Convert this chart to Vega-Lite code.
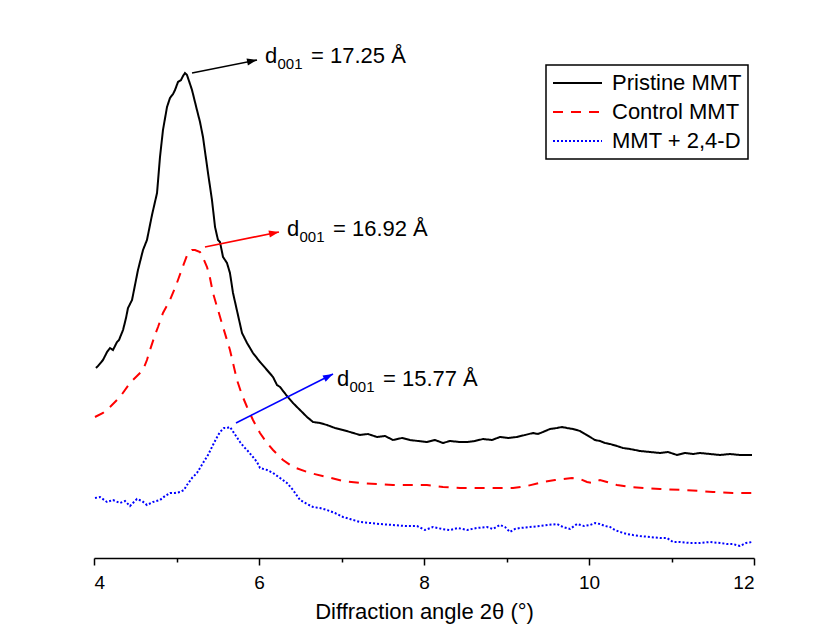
{
  "$schema": "https://vega.github.io/schema/vega-lite/v6.json",
  "width": 660,
  "height": 538,
  "autosize": {"type": "none"},
  "padding": {"left": 94, "top": 20, "right": 68, "bottom": 74},
  "background": "white",
  "config": {"font": "Liberation Sans", "view": {"stroke": null}},
  "datasets": {
    "xrd": [
      {"series":"Pristine MMT","x":4.024,"y":190},{"series":"Pristine MMT","x":4.048,"y":192},{"series":"Pristine MMT","x":4.109,"y":198},{"series":"Pristine MMT","x":4.158,"y":206},{"series":"Pristine MMT","x":4.194,"y":210},{"series":"Pristine MMT","x":4.23,"y":208},{"series":"Pristine MMT","x":4.279,"y":216},{"series":"Pristine MMT","x":4.303,"y":218},{"series":"Pristine MMT","x":4.352,"y":228},{"series":"Pristine MMT","x":4.388,"y":240},{"series":"Pristine MMT","x":4.412,"y":250},{"series":"Pristine MMT","x":4.461,"y":258},{"series":"Pristine MMT","x":4.497,"y":273},{"series":"Pristine MMT","x":4.533,"y":288},{"series":"Pristine MMT","x":4.594,"y":308},{"series":"Pristine MMT","x":4.642,"y":318},{"series":"Pristine MMT","x":4.703,"y":343},{"series":"Pristine MMT","x":4.764,"y":365},{"series":"Pristine MMT","x":4.8,"y":401},{"series":"Pristine MMT","x":4.836,"y":428},{"series":"Pristine MMT","x":4.885,"y":451},{"series":"Pristine MMT","x":4.921,"y":460},{"series":"Pristine MMT","x":4.958,"y":464},{"series":"Pristine MMT","x":4.982,"y":468},{"series":"Pristine MMT","x":5.018,"y":476},{"series":"Pristine MMT","x":5.055,"y":478},{"series":"Pristine MMT","x":5.079,"y":482},{"series":"Pristine MMT","x":5.103,"y":485},{"series":"Pristine MMT","x":5.127,"y":483},{"series":"Pristine MMT","x":5.164,"y":474},{"series":"Pristine MMT","x":5.188,"y":468},{"series":"Pristine MMT","x":5.248,"y":448},{"series":"Pristine MMT","x":5.285,"y":436},{"series":"Pristine MMT","x":5.321,"y":421},{"series":"Pristine MMT","x":5.382,"y":385},{"series":"Pristine MMT","x":5.43,"y":358},{"series":"Pristine MMT","x":5.467,"y":331},{"series":"Pristine MMT","x":5.503,"y":318},{"series":"Pristine MMT","x":5.527,"y":316},{"series":"Pristine MMT","x":5.564,"y":301},{"series":"Pristine MMT","x":5.612,"y":295},{"series":"Pristine MMT","x":5.648,"y":285},{"series":"Pristine MMT","x":5.685,"y":265},{"series":"Pristine MMT","x":5.745,"y":243},{"series":"Pristine MMT","x":5.794,"y":225},{"series":"Pristine MMT","x":5.855,"y":215},{"series":"Pristine MMT","x":5.927,"y":205},{"series":"Pristine MMT","x":6.012,"y":196},{"series":"Pristine MMT","x":6.097,"y":188},{"series":"Pristine MMT","x":6.17,"y":181},{"series":"Pristine MMT","x":6.218,"y":173},{"series":"Pristine MMT","x":6.255,"y":171},{"series":"Pristine MMT","x":6.339,"y":162},{"series":"Pristine MMT","x":6.412,"y":155},{"series":"Pristine MMT","x":6.497,"y":148},{"series":"Pristine MMT","x":6.582,"y":141},{"series":"Pristine MMT","x":6.655,"y":136},{"series":"Pristine MMT","x":6.739,"y":135},{"series":"Pristine MMT","x":6.824,"y":133},{"series":"Pristine MMT","x":6.921,"y":130},{"series":"Pristine MMT","x":7.018,"y":128},{"series":"Pristine MMT","x":7.103,"y":126},{"series":"Pristine MMT","x":7.224,"y":123},{"series":"Pristine MMT","x":7.321,"y":124},{"series":"Pristine MMT","x":7.43,"y":121},{"series":"Pristine MMT","x":7.527,"y":122},{"series":"Pristine MMT","x":7.624,"y":118},{"series":"Pristine MMT","x":7.733,"y":120},{"series":"Pristine MMT","x":7.83,"y":118},{"series":"Pristine MMT","x":7.927,"y":117},{"series":"Pristine MMT","x":8.036,"y":116},{"series":"Pristine MMT","x":8.133,"y":118},{"series":"Pristine MMT","x":8.23,"y":115},{"series":"Pristine MMT","x":8.315,"y":117},{"series":"Pristine MMT","x":8.436,"y":116},{"series":"Pristine MMT","x":8.521,"y":116},{"series":"Pristine MMT","x":8.618,"y":117},{"series":"Pristine MMT","x":8.715,"y":119},{"series":"Pristine MMT","x":8.824,"y":118},{"series":"Pristine MMT","x":8.921,"y":121},{"series":"Pristine MMT","x":9.018,"y":120},{"series":"Pristine MMT","x":9.127,"y":121},{"series":"Pristine MMT","x":9.224,"y":123},{"series":"Pristine MMT","x":9.321,"y":125},{"series":"Pristine MMT","x":9.382,"y":124},{"series":"Pristine MMT","x":9.442,"y":126},{"series":"Pristine MMT","x":9.527,"y":129},{"series":"Pristine MMT","x":9.612,"y":130},{"series":"Pristine MMT","x":9.673,"y":131},{"series":"Pristine MMT","x":9.733,"y":130},{"series":"Pristine MMT","x":9.806,"y":129},{"series":"Pristine MMT","x":9.891,"y":127},{"series":"Pristine MMT","x":9.952,"y":124},{"series":"Pristine MMT","x":10.012,"y":121},{"series":"Pristine MMT","x":10.073,"y":118},{"series":"Pristine MMT","x":10.133,"y":117},{"series":"Pristine MMT","x":10.194,"y":115},{"series":"Pristine MMT","x":10.255,"y":114},{"series":"Pristine MMT","x":10.339,"y":112},{"series":"Pristine MMT","x":10.412,"y":110},{"series":"Pristine MMT","x":10.497,"y":109},{"series":"Pristine MMT","x":10.618,"y":107},{"series":"Pristine MMT","x":10.739,"y":106},{"series":"Pristine MMT","x":10.861,"y":105},{"series":"Pristine MMT","x":10.958,"y":106},{"series":"Pristine MMT","x":11.067,"y":103},{"series":"Pristine MMT","x":11.164,"y":105},{"series":"Pristine MMT","x":11.261,"y":104},{"series":"Pristine MMT","x":11.345,"y":105},{"series":"Pristine MMT","x":11.467,"y":104},{"series":"Pristine MMT","x":11.588,"y":103},{"series":"Pristine MMT","x":11.709,"y":104},{"series":"Pristine MMT","x":11.83,"y":103},{"series":"Pristine MMT","x":11.976,"y":103},
      {"series":"Control MMT","x":4.012,"y":141},{"series":"Control MMT","x":4.109,"y":145},{"series":"Control MMT","x":4.194,"y":151},{"series":"Control MMT","x":4.315,"y":161},{"series":"Control MMT","x":4.436,"y":175},{"series":"Control MMT","x":4.521,"y":182},{"series":"Control MMT","x":4.594,"y":188},{"series":"Control MMT","x":4.642,"y":198},{"series":"Control MMT","x":4.679,"y":208},{"series":"Control MMT","x":4.739,"y":223},{"series":"Control MMT","x":4.776,"y":231},{"series":"Control MMT","x":4.836,"y":245},{"series":"Control MMT","x":4.921,"y":258},{"series":"Control MMT","x":4.982,"y":270},{"series":"Control MMT","x":5.018,"y":278},{"series":"Control MMT","x":5.079,"y":292},{"series":"Control MMT","x":5.139,"y":305},{"series":"Control MMT","x":5.188,"y":308},{"series":"Control MMT","x":5.224,"y":308},{"series":"Control MMT","x":5.285,"y":306},{"series":"Control MMT","x":5.333,"y":298},{"series":"Control MMT","x":5.37,"y":291},{"series":"Control MMT","x":5.406,"y":280},{"series":"Control MMT","x":5.442,"y":265},{"series":"Control MMT","x":5.503,"y":248},{"series":"Control MMT","x":5.564,"y":231},{"series":"Control MMT","x":5.648,"y":208},{"series":"Control MMT","x":5.733,"y":178},{"series":"Control MMT","x":5.794,"y":163},{"series":"Control MMT","x":5.855,"y":151},{"series":"Control MMT","x":5.927,"y":138},{"series":"Control MMT","x":6.012,"y":125},{"series":"Control MMT","x":6.097,"y":115},{"series":"Control MMT","x":6.17,"y":108},{"series":"Control MMT","x":6.291,"y":98},{"series":"Control MMT","x":6.412,"y":91},{"series":"Control MMT","x":6.618,"y":85},{"series":"Control MMT","x":6.824,"y":81},{"series":"Control MMT","x":7.018,"y":77},{"series":"Control MMT","x":7.224,"y":75},{"series":"Control MMT","x":7.43,"y":74},{"series":"Control MMT","x":7.624,"y":73},{"series":"Control MMT","x":7.83,"y":73},{"series":"Control MMT","x":8.036,"y":73},{"series":"Control MMT","x":8.23,"y":71},{"series":"Control MMT","x":8.436,"y":70},{"series":"Control MMT","x":8.715,"y":70},{"series":"Control MMT","x":8.921,"y":70},{"series":"Control MMT","x":9.079,"y":70},{"series":"Control MMT","x":9.248,"y":72},{"series":"Control MMT","x":9.442,"y":76},{"series":"Control MMT","x":9.588,"y":78},{"series":"Control MMT","x":9.685,"y":79},{"series":"Control MMT","x":9.794,"y":80},{"series":"Control MMT","x":9.891,"y":79},{"series":"Control MMT","x":9.976,"y":76},{"series":"Control MMT","x":10.048,"y":75},{"series":"Control MMT","x":10.133,"y":78},{"series":"Control MMT","x":10.218,"y":76},{"series":"Control MMT","x":10.339,"y":73},{"series":"Control MMT","x":10.497,"y":71},{"series":"Control MMT","x":10.679,"y":70},{"series":"Control MMT","x":10.861,"y":69},{"series":"Control MMT","x":11.139,"y":68},{"series":"Control MMT","x":11.345,"y":67},{"series":"Control MMT","x":11.503,"y":66},{"series":"Control MMT","x":11.745,"y":65},{"series":"Control MMT","x":11.976,"y":65},
      {"series":"MMT + 2,4-D","x":4.012,"y":60},{"series":"MMT + 2,4-D","x":4.073,"y":61},{"series":"MMT + 2,4-D","x":4.158,"y":56},{"series":"MMT + 2,4-D","x":4.23,"y":58},{"series":"MMT + 2,4-D","x":4.315,"y":55},{"series":"MMT + 2,4-D","x":4.376,"y":57},{"series":"MMT + 2,4-D","x":4.436,"y":52},{"series":"MMT + 2,4-D","x":4.521,"y":59},{"series":"MMT + 2,4-D","x":4.582,"y":57},{"series":"MMT + 2,4-D","x":4.642,"y":53},{"series":"MMT + 2,4-D","x":4.715,"y":56},{"series":"MMT + 2,4-D","x":4.8,"y":58},{"series":"MMT + 2,4-D","x":4.861,"y":62},{"series":"MMT + 2,4-D","x":4.921,"y":65},{"series":"MMT + 2,4-D","x":4.982,"y":65},{"series":"MMT + 2,4-D","x":5.042,"y":66},{"series":"MMT + 2,4-D","x":5.091,"y":68},{"series":"MMT + 2,4-D","x":5.127,"y":73},{"series":"MMT + 2,4-D","x":5.188,"y":80},{"series":"MMT + 2,4-D","x":5.248,"y":85},{"series":"MMT + 2,4-D","x":5.321,"y":95},{"series":"MMT + 2,4-D","x":5.382,"y":103},{"series":"MMT + 2,4-D","x":5.43,"y":111},{"series":"MMT + 2,4-D","x":5.479,"y":119},{"series":"MMT + 2,4-D","x":5.527,"y":126},{"series":"MMT + 2,4-D","x":5.576,"y":130},{"series":"MMT + 2,4-D","x":5.612,"y":130},{"series":"MMT + 2,4-D","x":5.648,"y":131},{"series":"MMT + 2,4-D","x":5.673,"y":128},{"series":"MMT + 2,4-D","x":5.721,"y":122},{"series":"MMT + 2,4-D","x":5.77,"y":116},{"series":"MMT + 2,4-D","x":5.818,"y":111},{"series":"MMT + 2,4-D","x":5.855,"y":108},{"series":"MMT + 2,4-D","x":5.927,"y":101},{"series":"MMT + 2,4-D","x":5.976,"y":96},{"series":"MMT + 2,4-D","x":6.012,"y":90},{"series":"MMT + 2,4-D","x":6.097,"y":88},{"series":"MMT + 2,4-D","x":6.17,"y":85},{"series":"MMT + 2,4-D","x":6.255,"y":80},{"series":"MMT + 2,4-D","x":6.339,"y":75},{"series":"MMT + 2,4-D","x":6.412,"y":68},{"series":"MMT + 2,4-D","x":6.497,"y":58},{"series":"MMT + 2,4-D","x":6.582,"y":54},{"series":"MMT + 2,4-D","x":6.655,"y":51},{"series":"MMT + 2,4-D","x":6.739,"y":50},{"series":"MMT + 2,4-D","x":6.824,"y":48},{"series":"MMT + 2,4-D","x":6.921,"y":45},{"series":"MMT + 2,4-D","x":7.018,"y":41},{"series":"MMT + 2,4-D","x":7.103,"y":39},{"series":"MMT + 2,4-D","x":7.224,"y":36},{"series":"MMT + 2,4-D","x":7.345,"y":35},{"series":"MMT + 2,4-D","x":7.467,"y":34},{"series":"MMT + 2,4-D","x":7.624,"y":33},{"series":"MMT + 2,4-D","x":7.77,"y":32},{"series":"MMT + 2,4-D","x":7.915,"y":32},{"series":"MMT + 2,4-D","x":8.012,"y":28},{"series":"MMT + 2,4-D","x":8.109,"y":31},{"series":"MMT + 2,4-D","x":8.218,"y":29},{"series":"MMT + 2,4-D","x":8.315,"y":28},{"series":"MMT + 2,4-D","x":8.412,"y":30},{"series":"MMT + 2,4-D","x":8.521,"y":28},{"series":"MMT + 2,4-D","x":8.642,"y":30},{"series":"MMT + 2,4-D","x":8.764,"y":31},{"series":"MMT + 2,4-D","x":8.836,"y":29},{"series":"MMT + 2,4-D","x":8.921,"y":33},{"series":"MMT + 2,4-D","x":8.982,"y":31},{"series":"MMT + 2,4-D","x":9.042,"y":26},{"series":"MMT + 2,4-D","x":9.103,"y":29},{"series":"MMT + 2,4-D","x":9.164,"y":30},{"series":"MMT + 2,4-D","x":9.285,"y":31},{"series":"MMT + 2,4-D","x":9.406,"y":32},{"series":"MMT + 2,4-D","x":9.503,"y":33},{"series":"MMT + 2,4-D","x":9.612,"y":34},{"series":"MMT + 2,4-D","x":9.685,"y":31},{"series":"MMT + 2,4-D","x":9.77,"y":29},{"series":"MMT + 2,4-D","x":9.855,"y":34},{"series":"MMT + 2,4-D","x":9.939,"y":32},{"series":"MMT + 2,4-D","x":10.012,"y":33},{"series":"MMT + 2,4-D","x":10.073,"y":35},{"series":"MMT + 2,4-D","x":10.133,"y":34},{"series":"MMT + 2,4-D","x":10.194,"y":32},{"series":"MMT + 2,4-D","x":10.255,"y":31},{"series":"MMT + 2,4-D","x":10.315,"y":28},{"series":"MMT + 2,4-D","x":10.376,"y":26},{"series":"MMT + 2,4-D","x":10.461,"y":24},{"series":"MMT + 2,4-D","x":10.533,"y":23},{"series":"MMT + 2,4-D","x":10.618,"y":22},{"series":"MMT + 2,4-D","x":10.739,"y":21},{"series":"MMT + 2,4-D","x":10.861,"y":20},{"series":"MMT + 2,4-D","x":10.945,"y":20},{"series":"MMT + 2,4-D","x":11.018,"y":16},{"series":"MMT + 2,4-D","x":11.103,"y":16},{"series":"MMT + 2,4-D","x":11.224,"y":15},{"series":"MMT + 2,4-D","x":11.345,"y":15},{"series":"MMT + 2,4-D","x":11.467,"y":16},{"series":"MMT + 2,4-D","x":11.588,"y":15},{"series":"MMT + 2,4-D","x":11.673,"y":14},{"series":"MMT + 2,4-D","x":11.745,"y":14},{"series":"MMT + 2,4-D","x":11.83,"y":12},{"series":"MMT + 2,4-D","x":11.903,"y":15},{"series":"MMT + 2,4-D","x":11.976,"y":16}
    ],
    "notes": [
      {"series":"Pristine MMT","x":6.073,"y":495,"x1":5.188,"y1":485,"x2":5.976,"y2":498,"value":"= 17.25 Å"},
      {"series":"Control MMT","x":6.339,"y":322,"x1":5.345,"y1":311,"x2":6.242,"y2":326,"value":"= 16.92 Å"},
      {"series":"MMT + 2,4-D","x":6.945,"y":172,"x1":5.721,"y1":135,"x2":6.897,"y2":184,"value":"= 15.77 Å"}
    ]
  },
  "layer": [
    {
      "data": {"name": "xrd"},
      "mark": {"type": "line", "strokeWidth": 2, "interpolate": "linear"},
      "encoding": {
        "x": {
          "field": "x", "type": "quantitative",
          "scale": {"domain": [4, 12], "nice": false, "zero": false},
          "axis": {
            "title": "Diffraction angle 2θ (°)",
            "values": [4, 5, 6, 7, 8, 9, 10, 11, 12],
            "labelExpr": "datum.value % 2 == 0 ? format(datum.value, 'd') : ''",
            "tickSize": {"condition": {"test": "datum.value % 2 == 1", "value": 4}, "value": 7},
            "grid": false,
            "domainColor": "black", "domainWidth": 1.5,
            "tickColor": "black", "tickWidth": 1.5,
            "labelColor": "black", "labelFontSize": 19, "labelPadding": 8, "labelFont": "Liberation Sans",
            "titleColor": "black", "titleFontSize": 22, "titleFontWeight": "normal", "titlePadding": 9, "titleFont": "Liberation Sans"
          }
        },
        "y": {
          "field": "y", "type": "quantitative",
          "scale": {"domain": [0, 538], "nice": false, "zero": false},
          "axis": null
        },
        "color": {
          "field": "series", "type": "nominal",
          "scale": {"domain": ["Pristine MMT", "Control MMT", "MMT + 2,4-D"], "range": ["#000000", "#ff0000", "#0000ff"]},
          "legend": {
            "orient": "none", "legendX": 452, "legendY": 45, "title": null,
            "symbolType": "stroke", "symbolSize": 2401, "symbolStrokeWidth": 2, "symbolOffset": 0,
            "strokeColor": "black", "fillColor": "white", "padding": 6,
            "labelFont": "Liberation Sans", "labelFontSize": 22, "labelColor": "black", "labelOffset": 9, "labelLimit": 300,
            "clipHeight": 24, "rowPadding": 5,
            "encode": {"legend": {"update": {"strokeWidth": {"value": 1.5}}}}
          }
        },
        "strokeDash": {
          "field": "series", "type": "nominal",
          "scale": {"domain": ["Pristine MMT", "Control MMT", "MMT + 2,4-D"], "range": [[1, 0], [10, 8], [2, 2]]},
          "legend": null
        }
      }
    },
    {
      "data": {"name": "notes"},
      "mark": {"type": "rule", "strokeWidth": 1.6},
      "encoding": {
        "x": {"field": "x1", "type": "quantitative"},
        "y": {"field": "y1", "type": "quantitative"},
        "x2": {"field": "x2"},
        "y2": {"field": "y2"},
        "color": {"field": "series", "type": "nominal"}
      }
    },
    {
      "data": {"name": "notes"},
      "transform": [{"calculate": "atan2(-(datum.y2 - datum.y1), (datum.x2 - datum.x1) * 82.5) * 180 / PI", "as": "ang"}],
      "mark": {"type": "point", "shape": "M0,0L-2,-0.7L-2,0.7Z", "size": 100, "filled": true, "opacity": 1, "strokeWidth": 0},
      "encoding": {
        "x": {"field": "x2", "type": "quantitative"},
        "y": {"field": "y2", "type": "quantitative"},
        "angle": {"field": "ang", "type": "quantitative", "scale": null},
        "color": {"field": "series", "type": "nominal"}
      }
    },
    {
      "data": {"name": "notes"},
      "mark": {"type": "text", "text": "d", "align": "left", "baseline": "alphabetic", "fontSize": 22, "font": "Liberation Sans"},
      "encoding": {
        "x": {"field": "x", "type": "quantitative"},
        "y": {"field": "y", "type": "quantitative"},
        "color": {"value": "black"}
      }
    },
    {
      "data": {"name": "notes"},
      "mark": {"type": "text", "text": "001", "align": "left", "baseline": "alphabetic", "fontSize": 15, "dx": 12.5, "dy": 6, "font": "Liberation Sans"},
      "encoding": {
        "x": {"field": "x", "type": "quantitative"},
        "y": {"field": "y", "type": "quantitative"},
        "color": {"value": "black"}
      }
    },
    {
      "data": {"name": "notes"},
      "mark": {"type": "text", "align": "left", "baseline": "alphabetic", "fontSize": 22, "dx": 46, "font": "Liberation Sans"},
      "encoding": {
        "x": {"field": "x", "type": "quantitative"},
        "y": {"field": "y", "type": "quantitative"},
        "text": {"field": "value"},
        "color": {"value": "black"}
      }
    }
  ]
}
